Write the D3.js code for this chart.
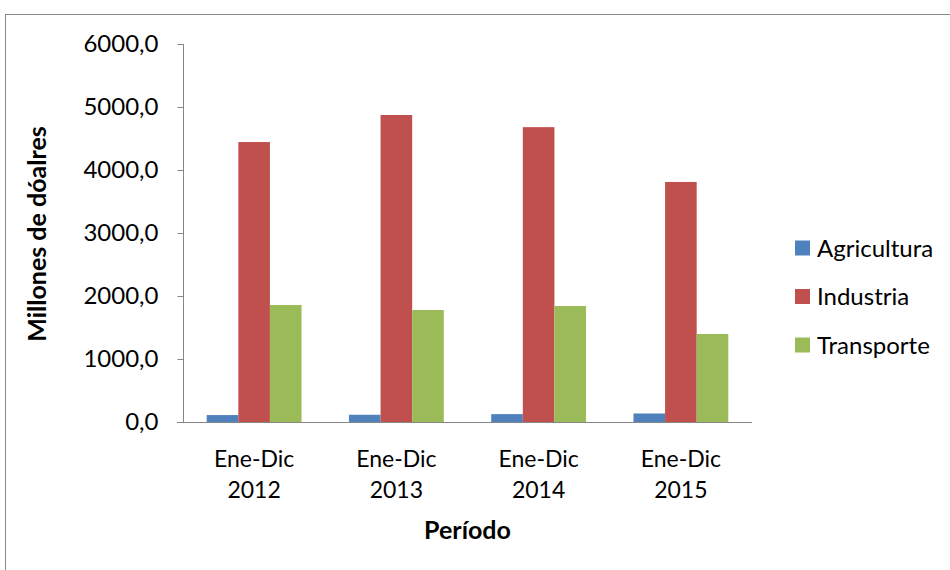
<!DOCTYPE html>
<html>
<head>
<meta charset="utf-8">
<script src="https://cdn.jsdelivr.net/npm/d3@7"></script>
<style>
  body { margin: 0; background: #fff; }
  text { font-family: Lato, "Open Sans", sans-serif; fill: #000; }
</style>
</head>
<body>
<script>
// categories and series
var periods = ["Ene-Dic 2012", "Ene-Dic 2013", "Ene-Dic 2014", "Ene-Dic 2015"]
var seriesNames = ["Agricultura", "Industria", "Transporte"]
var agricultura = [110, 115, 125, 135]
var industria = [4444, 4873, 4680, 3810]
var transporte = [1857, 1778, 1841, 1397]
var yTicks = [0, 1000, 2000, 3000, 4000, 5000, 6000]
var colors = ["#4f81bd", "#c0504d", "#9bbb59"]

var w = 950
var h = 570
var plot = {left: 183, right: 752, top: 44, bottom: 422}

var svg = d3.select("body")
            .append("svg")
            .attr("width", w)
            .attr("height", h)

// chart frame
svg.append("rect")
   .attr("x", 5.5)
   .attr("y", 14.5)
   .attr("width", w + 10)
   .attr("height", h + 10)
   .attr("fill", "none")
   .attr("stroke", "#888")
   .attr("stroke-width", 1)

var xScale = d3.scaleBand()
               .domain(periods)
               .range([plot.left, plot.right])

// gap width 150% -> bars take 3/4.5 of each band
var inner = d3.scaleBand()
              .domain(seriesNames)
              .range([xScale.bandwidth() * 0.75 / 4.5, xScale.bandwidth() * (1 - 0.75 / 4.5)])

var yScale = d3.scaleLinear()
               .domain([0, 6000])
               .range([plot.bottom, plot.top])

var seriesData = [agricultura, industria, transporte]

// draw bars
seriesNames.forEach(function(name, s) {
  svg.selectAll(".bar" + s)
     .data(periods)
     .enter()
     .append("rect")
     .attr("class", "bar" + s)
     .attr("x", function(d) { return xScale(d) + inner(name) })
     .attr("y", function(d, i) { return yScale(seriesData[s][i]) })
     .attr("width", inner.bandwidth())
     .attr("height", function(d, i) { return plot.bottom - yScale(seriesData[s][i]) })
     .attr("fill", colors[s])
})

// y axis
var yAxis = svg.append("g")
   .attr("transform", "translate(" + (plot.left + 0.5) + ",0)")
   .call(d3.axisLeft(yScale)
           .tickValues(yTicks)
           .tickSize(6)
           .tickPadding(19)
           .tickFormat(function(d) { return d.toFixed(1).replace(".", ",") }))
yAxis.select(".domain").attr("stroke", "#868686").attr("d", "M0," + plot.top + "V" + plot.bottom)
yAxis.selectAll(".tick line").attr("stroke", "#868686")
yAxis.selectAll(".tick text").style("font-size", "24px").attr("font-family", null)

// x axis baseline
svg.append("line")
   .attr("x1", plot.left - 6)
   .attr("x2", plot.right)
   .attr("y1", plot.bottom + 0.5)
   .attr("y2", plot.bottom + 0.5)
   .attr("stroke", "#868686")

// category labels (two lines)
var cat = svg.selectAll(".cat")
   .data(periods)
   .enter()
   .append("text")
   .attr("class", "cat")
   .attr("text-anchor", "middle")
   .style("font-size", "23px")
cat.append("tspan")
   .attr("x", function(d) { return xScale(d) + xScale.bandwidth() / 2 })
   .attr("y", 467)
   .text(function(d) { return d.split(" ")[0] })
cat.append("tspan")
   .attr("x", function(d) { return xScale(d) + xScale.bandwidth() / 2 })
   .attr("y", 498)
   .text(function(d) { return d.split(" ")[1] })

// axis titles
svg.append("text")
   .attr("x", (plot.left + plot.right) / 2)
   .attr("y", 539)
   .attr("text-anchor", "middle")
   .style("font-size", "25px")
   .style("font-weight", "bold")
   .text("Período")

svg.append("text")
   .attr("transform", "translate(46,234) rotate(-90)")
   .attr("text-anchor", "middle")
   .style("font-size", "25px")
   .style("font-weight", "bold")
   .text("Millones de dóalres")

// legend
var legend = svg.selectAll(".legend")
   .data(seriesNames)
   .enter()
   .append("g")
   .attr("class", "legend")
   .attr("transform", function(d, i) { return "translate(795," + (248 + i * 48.5) + ")" })
legend.append("rect")
   .attr("x", 0)
   .attr("y", -7.5)
   .attr("width", 15)
   .attr("height", 15)
   .attr("fill", function(d, i) { return colors[i] })
legend.append("text")
   .attr("x", 22)
   .attr("y", 8.5)
   .style("font-size", "24px")
   .text(function(d) { return d })
</script>
</body>
</html>
